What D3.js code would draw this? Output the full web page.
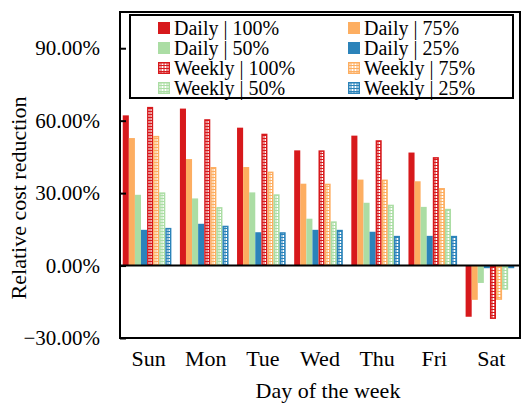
<!DOCTYPE html>
<html>
<head>
<meta charset="utf-8">
<script src="https://cdn.jsdelivr.net/npm/d3@7"></script>
<style>
  body { margin: 0; background: #fff; }
  text { font-family: "Liberation Serif", "Times New Roman", serif; fill: #000; }
</style>
</head>
<body>
<div id="chart"></div>
<script>
// data
var days = ["Sun", "Mon", "Tue", "Wed", "Thu", "Fri", "Sat"];
var seriesNames = ["Daily | 100%", "Daily | 75%", "Daily | 50%", "Daily | 25%",
                   "Weekly | 100%", "Weekly | 75%", "Weekly | 50%", "Weekly | 25%"];
var daily100  = [0.622, 0.650, 0.571, 0.477, 0.538, 0.468, -0.212];
var daily75   = [0.528, 0.441, 0.408, 0.339, 0.356, 0.349, -0.142];
var daily50   = [0.293, 0.278, 0.303, 0.194, 0.260, 0.243, -0.072];
var daily25   = [0.148, 0.173, 0.138, 0.148, 0.140, 0.123, -0.011];
var weekly100 = [0.657, 0.606, 0.546, 0.477, 0.519, 0.449, -0.221];
var weekly75  = [0.537, 0.408, 0.389, 0.339, 0.356, 0.321, -0.142];
var weekly50  = [0.303, 0.242, 0.295, 0.183, 0.252, 0.235, -0.100];
var weekly25  = [0.156, 0.165, 0.138, 0.148, 0.123, 0.123, -0.011];
var yTicks = [-0.3, 0, 0.3, 0.6, 0.9];

var seriesValues = [daily100, daily75, daily50, daily25, weekly100, weekly75, weekly50, weekly25];
var colors = ["#d7191c", "#fdae61", "#abdda4", "#2b83ba"];

var series = seriesNames.map((name, i) => ({
    name: name,
    idx: i,
    color: colors[i % 4],
    weekly: i >= 4,
    values: seriesValues[i]
}));

var margin = { top: 12, right: 5, bottom: 67, left: 120 },
    width = 525 - margin.left - margin.right,
    height = 405 - margin.top - margin.bottom;

var svg = d3.select("#chart").append("svg")
    .attr("width", 525)
    .attr("height", 405);

// patterns for weekly bars
var defs = svg.append("defs");
colors.forEach((c, i) => {
    var p = defs.append("pattern")
        .attr("id", "pat" + i)
        .attr("patternUnits", "userSpaceOnUse")
        .attr("width", 3)
        .attr("height", 3);
    p.append("rect").attr("width", 3).attr("height", 3).attr("fill", c);
    p.append("rect").attr("x", 0.5).attr("y", 1).attr("width", 2).attr("height", 2).attr("fill", "#fff");
});

var g = svg.append("g")
    .attr("transform", "translate(" + margin.left + "," + margin.top + ")");

var x0 = d3.scaleBand()
    .domain(days)
    .range([0, width])
    .padding(0);

var x1 = d3.scaleBand()
    .domain(series.map(d => d.name))
    .range([0, x0.bandwidth()])
    .paddingInner(0)
    .paddingOuter(0.7);

var y = d3.scaleLinear()
    .domain([-0.3, 1.05])
    .range([height, 0]);

// bars
var groups = g.selectAll(".series")
    .data(series)
    .enter().append("g")
    .attr("class", "series");

groups.selectAll("rect")
    .data(s => s.values.map((v, j) => ({ s: s, day: days[j], v: v })))
    .enter().append("rect")
    .attr("x", d => x0(d.day) + x1(d.s.name) - 1.5 + (d.s.weekly ? 0.75 : 0))
    .attr("y", d => y(Math.max(0, d.v)) + (d.s.weekly ? 0.75 : 0))
    .attr("width", d => x1.bandwidth() - (d.s.weekly ? 1.5 : 0))
    .attr("height", d => Math.abs(y(d.v) - y(0)) - (d.s.weekly ? 1.5 : 0))
    .attr("fill", d => d.s.weekly ? "url(#pat" + (d.s.idx % 4) + ")" : d.s.color)
    .attr("stroke", d => d.s.weekly ? d.s.color : "none")
    .attr("stroke-width", 1.5);

// zero line
g.append("line")
    .attr("x1", 0).attr("x2", width)
    .attr("y1", y(0)).attr("y2", y(0))
    .attr("stroke", "#000")
    .attr("stroke-width", 2);

// y axis
var yAxis = g.append("g")
    .call(d3.axisLeft(y)
        .tickValues(yTicks)
        .tickSize(-6)
        .tickPadding(20)
        .tickFormat(d3.format(".2%")));
yAxis.select(".domain").remove();
yAxis.selectAll(".tick line").attr("stroke", "#000").attr("stroke-width", 2);
yAxis.selectAll("text")
    .style("font-family", "Liberation Serif")
    .style("font-size", "21px");

// frame
g.append("rect")
    .attr("x", 0).attr("y", 0)
    .attr("width", width).attr("height", height)
    .attr("fill", "none")
    .attr("stroke", "#000")
    .attr("stroke-width", 2);

// category labels
g.selectAll(".day")
    .data(days)
    .enter().append("text")
    .attr("class", "day")
    .attr("x", d => x0(d) + x0.bandwidth() / 2)
    .attr("y", height + 28)
    .attr("text-anchor", "middle")
    .style("font-size", "22px")
    .text(d => d);

// X Axis Label
g.append("text")
    .attr("x", width / 2 + 8)
    .attr("y", height + 60)
    .attr("text-anchor", "middle")
    .style("font-size", "22px")
    .text("Day of the week");

// Y Axis Label
svg.append("text")
    .attr("transform", "translate(26," + 198 + ") rotate(-90)")
    .attr("text-anchor", "middle")
    .style("font-size", "22px")
    .text("Relative cost reduction");

// legend
var legend = svg.append("g");
legend.append("rect")
    .attr("x", 130).attr("y", 15)
    .attr("width", 383).attr("height", 83)
    .attr("fill", "#fff")
    .attr("stroke", "#000")
    .attr("stroke-width", 2);

var items = legend.selectAll(".item")
    .data(series)
    .enter().append("g")
    .attr("class", "item")
    .attr("transform", (d, i) => "translate(" + (i % 2 == 0 ? 158 : 348) + "," + (28 + Math.floor(i / 2) * 20) + ")");

items.append("rect")
    .attr("x", d => d.weekly ? 0.75 : 0)
    .attr("y", d => -6 + (d.weekly ? 0.75 : 0))
    .attr("width", d => d.weekly ? 10.5 : 12)
    .attr("height", d => d.weekly ? 10.5 : 12)
    .attr("fill", d => d.weekly ? "url(#pat" + (d.idx % 4) + ")" : d.color)
    .attr("stroke", d => d.weekly ? d.color : "none")
    .attr("stroke-width", 1.5);

items.append("text")
    .attr("x", 16)
    .attr("y", 7)
    .style("font-size", "20px")
    .text(d => d.name);
</script>
</body>
</html>
